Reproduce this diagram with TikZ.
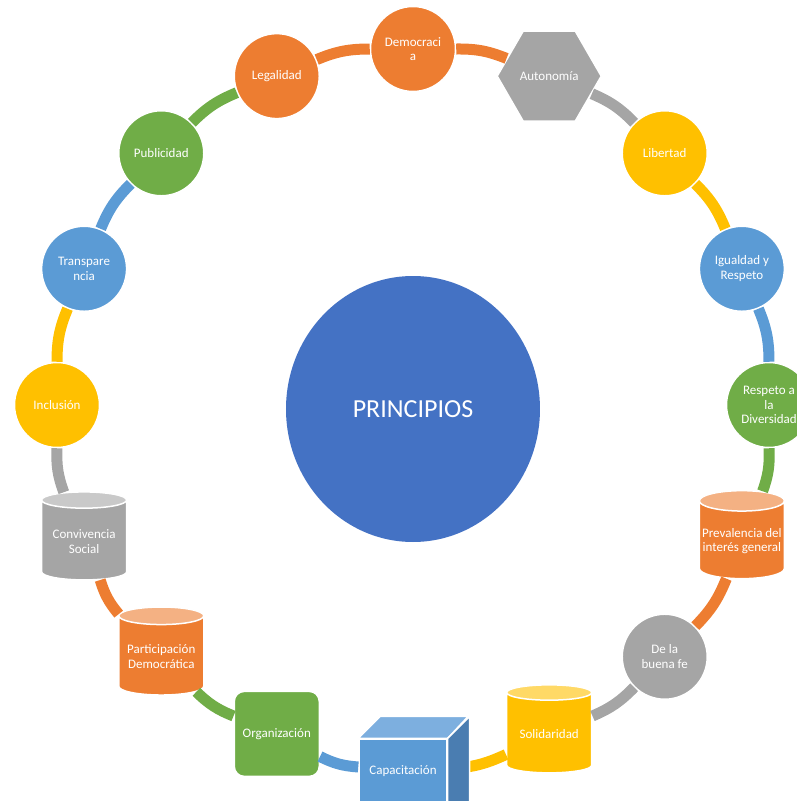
\documentclass[tikz,border=0pt]{standalone}
\usepackage{fontspec}
\setmainfont{Carlito}
\usetikzlibrary{shapes.geometric}

\definecolor{cOrange}{HTML}{ED7D31}
\definecolor{cOrangeTop}{HTML}{F4B183}
\definecolor{cGray}{HTML}{A5A5A5}
\definecolor{cGrayTop}{HTML}{C9C9C9}
\definecolor{cYellow}{HTML}{FFC000}
\definecolor{cYellowTop}{HTML}{FFD966}
\definecolor{cBlue}{HTML}{5B9BD5}
\definecolor{cBlueTop}{HTML}{7DAFDF}
\definecolor{cBlueSide}{HTML}{4A7DB1}
\definecolor{cGreen}{HTML}{70AD47}
\definecolor{cCenter}{HTML}{4472C4}

\begin{document}
\begin{tikzpicture}[x=1pt,y=1pt,
  every node/.style={text=white,font=\fontsize{13}{14.7}\selectfont,align=center},
  ball/.style={circle,draw=white,line width=1.5pt,minimum size=85pt,inner sep=1pt},
  tank/.style={cylinder,shape border rotate=90,aspect=0.25,draw=white,line width=1.5pt,
    minimum width=85pt,minimum height=88pt,inner sep=1pt,cylinder uses custom fill},
  hexa/.style={regular polygon,regular polygon sides=6,draw=white,line width=1.5pt,
    minimum size=104pt,inner sep=0pt},
  ring/.style={line width=11pt,bend left=11.25}]

  \useasboundingbox (-413,405) rectangle (383,-396);

  \node[ellipse,fill=cCenter,minimum width=254pt,minimum height=266pt,
    font=\fontsize{26}{30}\selectfont] at (0,-4) (prin) {PRINCIPIOS};

  \node[ball,fill=cOrange] at (90:356) (dem) {Democraci\\a};
  \node[hexa,fill=cGray] at (67.5:356) (aut) {Autonomía};
  \node[ball,fill=cYellow] at (45:356) (lib) {Libertad};
  \node[ball,fill=cBlue] at (22.5:356) (igu) {Igualdad y\\Respeto};
  \node[ball,fill=cGreen] at (0:356) (div) {Respeto a\\la\\Diversidad};
  \node[tank,cylinder end fill=cOrangeTop,cylinder body fill=cOrange] at (-22.5:356) (pre) {Prevalencia del\\interés general};
  \node[ball,fill=cGray] at (-45:356) (fe) {De la\\buena fe};
  \node[tank,cylinder end fill=cYellowTop,cylinder body fill=cYellow] at (-67.5:356) (sol) {Solidaridad};
  \node[rectangle,fill=cBlue,draw=white,line width=1.5pt,minimum width=88pt,minimum height=64pt] at (-10,-366) (cap) {Capacitación};
  \node[rectangle,rounded corners=10pt,fill=cGreen,draw=white,line width=1.5pt,minimum size=85pt] at (-112.5:356) (org) {Organización};
  \node[tank,cylinder end fill=cOrangeTop,cylinder body fill=cOrange] at (-135:356) (par) {Participación\\Democrática};
  \node[tank,cylinder end fill=cGrayTop,cylinder body fill=cGray] at (-157.5:356) (con) {Convivencia\\Social};
  \node[ball,fill=cYellow] at (180:356) (inc) {Inclusión};
  \node[ball,fill=cBlue] at (157.5:356) (tra) {Transpare\\ncia};
  \node[ball,fill=cGreen] at (135:356) (pub) {Publicidad};
  \node[ball,fill=cOrange] at (112.5:356) (leg) {Legalidad};

  \draw[ring,cOrange] (dem) to (aut);
  \draw[ring,cGray] (aut) to (lib);
  \draw[ring,cYellow] (lib) to (igu);
  \draw[ring,cBlue] (igu) to (div);
  \draw[ring,cGreen] (div) to (pre);
  \draw[ring,cOrange] (pre) to (fe);
  \draw[ring,cGray] (fe) to (sol);
  \draw[ring,cYellow] (sol) to (cap);
  \draw[ring,cBlue] (cap) to (org);
  \draw[ring,cGreen] (org) to (par);
  \draw[ring,cOrange] (par) to (con);
  \draw[ring,cGray] (con) to (inc);
  \draw[ring,cYellow] (inc) to (tra);
  \draw[ring,cBlue] (tra) to (pub);
  \draw[ring,cGreen] (pub) to (leg);
  \draw[ring,cOrange] (leg) to (dem);

  % cube faces
  \filldraw[fill=cBlueTop,draw=white,line width=1.5pt] (cap.north west) -- ++(22,22) -- ++(88,0) -- (cap.north east) -- cycle;
  \filldraw[fill=cBlueSide,draw=white,line width=1.5pt] (cap.north east) -- ++(22,22) -- ++(0,-90) -- ++(-22,-22) -- cycle;
\end{tikzpicture}
\end{document}
